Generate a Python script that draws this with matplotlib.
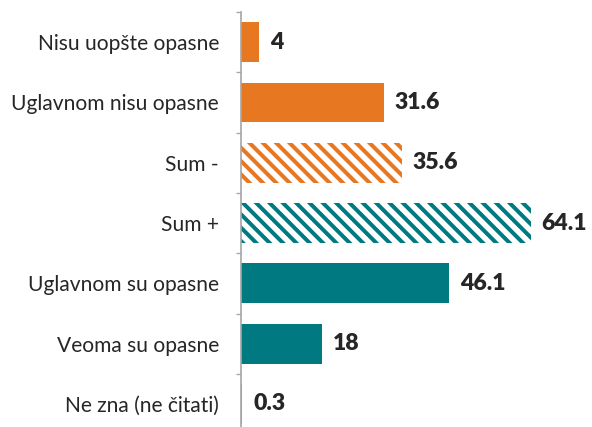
import matplotlib
matplotlib.use("Agg")
import matplotlib.pyplot as plt

categories = ["Nisu uopšte opasne", "Uglavnom nisu opasne", "Sum -", "Sum +",
              "Uglavnom su opasne", "Veoma su opasne", "Ne zna (ne čitati)"]
values = [4, 31.6, 35.6, 64.1, 46.1, 18, 0.3]
value_labels = ["4", "31.6", "35.6", "64.1", "46.1", "18", "0.3"]
ORANGE = "#E87722"
TEAL = "#007A80"
colors = [ORANGE, ORANGE, ORANGE, TEAL, TEAL, TEAL, ORANGE]
hatched = [False, False, True, True, False, False, False]

DPI = 80
plt.rcParams["hatch.linewidth"] = 3.6
fig = plt.figure(figsize=(592 / DPI, 427 / DPI), dpi=DPI)
W, H = 592, 427
top_px, pitch = 12, 60.3
bottom_px = top_px + 7 * pitch
ax = fig.add_axes([241 / W, 1 - bottom_px / H, (W - 241) / W, (bottom_px - top_px) / H])

ypos = list(range(len(categories)))
for y, v, c, h in zip(ypos, values, colors, hatched):
    if h:
        ax.barh(y, v, height=0.66, color="white", edgecolor=c, linewidth=0, hatch="\\\\")
    else:
        ax.barh(y, v, height=0.66, color=c, linewidth=0)

for y, v, lab in zip(ypos, values, value_labels):
    ax.annotate(lab, (v, y), xytext=(11 * 72 / DPI, 0), textcoords="offset points",
                va="center", ha="left", fontsize=23 * 72 / DPI, fontweight="heavy",
                color="#262626", family="Lato")

ax.set_xlim(0, (W - 241) / 4.52)
ax.set_ylim(6.5, -0.5)
ax.set_yticks(ypos)
ax.set_yticklabels(categories, fontsize=21 * 72 / DPI, color="#262626", family="Lato")
ax.tick_params(axis="y", which="major", length=0, pad=22 * 72 / DPI)
ax.set_yticks([i - 0.5 for i in range(8)], minor=True)
ax.tick_params(axis="y", which="minor", length=5 * 72 / DPI, width=1.2, color="#A6A6A6")
ax.set_xticks([])
for s in ["top", "right", "bottom"]:
    ax.spines[s].set_visible(False)
ax.spines["left"].set_color("#A6A6A6")
ax.spines["left"].set_linewidth(1.5)

fig.savefig("out.png", dpi=DPI)
